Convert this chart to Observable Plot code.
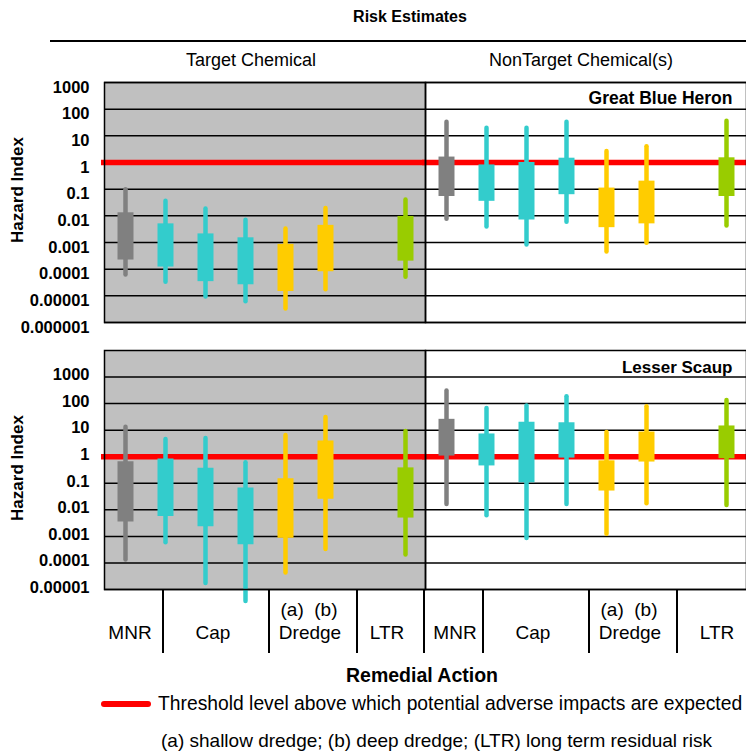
<!DOCTYPE html>
<html><head><meta charset="utf-8">
<script src="https://cdn.jsdelivr.net/npm/d3@7"></script>
<script src="https://cdn.jsdelivr.net/npm/@observablehq/plot@0.6"></script>
<style>
body{margin:0;background:#fff;font-family:"Liberation Sans",Arial,sans-serif;}
#root{position:relative;width:746px;height:752px;overflow:hidden;background:#fff;}
.t{position:absolute;white-space:nowrap;color:#000;line-height:1;}
.c{transform:translate(-50%,-50%);}
.l{transform:translate(0,-50%);}
.hl{position:absolute;background:#000;}
.pl{position:absolute;left:0;}
</style></head><body><div id="root"></div>
<script>
// ---------- data ----------
const actions = ["MNR","Cap 1","Cap 2","Cap 3","Dredge (a)","Dredge (b)","LTR"];
const xSlots = ["MNR","Cap 1","Cap 2","Cap 3","Dredge (a)","Dredge (b)","","LTR"];
const actionColors = ["#808080","#33cccc","#33cccc","#33cccc","#ffcc00","#ffcc00","#99cc00"];
const chemicals = ["Target Chemical","NonTarget Chemical(s)"];
const receptors = ["Great Blue Heron","Lesser Scaup"];
const threshold = 1;

// Great Blue Heron – Target Chemical
const heronTargetWhiskerLow = [6e-5, 3.2e-5, 9e-6, 6e-6, 3.2e-6, 1.7e-5, 5e-5];
const heronTargetBoxLow     = [2.2e-4, 1.2e-4, 3.4e-5, 2.6e-5, 1.45e-5, 8e-5, 2e-4];
const heronTargetBoxHigh    = [0.013, 0.005, 0.0021, 0.0015, 8.5e-4, 0.0044, 0.0095];
const heronTargetWhiskerHigh= [0.095, 0.035, 0.018, 0.0069, 0.0032, 0.019, 0.039];
// Great Blue Heron – NonTarget Chemical(s)
const heronNonWhiskerLow = [0.0075, 0.0038, 8e-4, 0.0058, 4.4e-4, 9.4e-4, 0.0042];
const heronNonBoxLow     = [0.053, 0.035, 0.007, 0.062, 0.0036, 0.005, 0.053];
const heronNonBoxHigh    = [1.6, 0.81, 1.0, 1.45, 0.11, 0.2, 1.5];
const heronNonWhiskerHigh= [32, 19.4, 19.4, 32, 2.6, 3.9, 35];
// Lesser Scaup – Target Chemical
const scaupTargetWhiskerLow = [1.3e-4, 5.7e-4, 1.7e-5, 3.5e-6, 4.2e-5, 3.2e-4, 2e-4];
const scaupTargetBoxLow     = [0.0035, 0.0056, 0.0023, 4.8e-4, 8.5e-4, 0.025, 0.0049];
const scaupTargetBoxHigh    = [0.65, 0.82, 0.37, 0.066, 0.148, 3.9, 0.38];
const scaupTargetWhiskerHigh= [13, 4.5, 4.9, 0.59, 6.3, 30, 9];
// Lesser Scaup – NonTarget Chemical(s)
const scaupNonWhiskerLow = [0.016, 0.006, 8.3e-4, 0.016, 0.0012, 0.017, 0.0145];
const scaupNonBoxLow     = [1.06, 0.45, 0.105, 0.89, 0.051, 0.63, 0.84];
const scaupNonBoxHigh    = [25.6, 7.2, 20, 19, 0.7, 8.5, 14.4];
const scaupNonWhiskerHigh= [300, 65, 82, 183, 8.1, 77, 130];

// axis ticks
const heronTicks = [1000, 100, 10, 1, 0.1, 0.01, 0.001, 0.0001, 0.00001, 0.000001];
const heronTickLabels = ["1000","100","10","1","0.1","0.01","0.001","0.0001","0.00001","0.000001"];
const scaupTicks = [1000, 100, 10, 1, 0.1, 0.01, 0.001, 0.0001, 0.00001];
const scaupTickLabels = ["1000","100","10","1","0.1","0.01","0.001","0.0001","0.00001"];

const footerGroups = ["MNR","Cap","Dredge","LTR"];
const legendText = "Threshold level above which potential adverse impacts are expected";
const noteText = "(a) shallow dredge; (b) deep dredge; (LTR) long term residual risk";

// ---------- build ----------
function rows(chem, wl, bl, bh, wh) {
  return actions.map((a, i) => ({chem, action: a, wl: wl[i], bl: bl[i], bh: bh[i], wh: wh[i]}));
}
const heronRows = rows(chemicals[0], heronTargetWhiskerLow, heronTargetBoxLow, heronTargetBoxHigh, heronTargetWhiskerHigh)
  .concat(rows(chemicals[1], heronNonWhiskerLow, heronNonBoxLow, heronNonBoxHigh, heronNonWhiskerHigh));
const scaupRows = rows(chemicals[0], scaupTargetWhiskerLow, scaupTargetBoxLow, scaupTargetBoxHigh, scaupTargetWhiskerHigh)
  .concat(rows(chemicals[1], scaupNonWhiskerLow, scaupNonBoxLow, scaupNonBoxHigh, scaupNonWhiskerHigh));

const FONT = "Liberation Sans, Arial, sans-serif";

function panel({data, domain, ticks, labels, tickDy, receptor, labelDy, labelSize, height, marginBottom}) {
  return Plot.plot({
    width: 746, height, marginLeft: 104, marginRight: 0, marginTop: 10, marginBottom,
    style: {fontFamily: FONT, background: "transparent", overflow: "visible", color: "#000"},
    fx: {domain: chemicals, padding: 0, axis: null},
    x: {type: "band", domain: xSlots, padding: 0, axis: null},
    y: {type: "log", domain},
    color: {domain: actions, range: actionColors},
    marks: [
      Plot.rect([{chem: chemicals[0]}], {fx: "chem", fill: "#c0c0c0"}),
      Plot.ruleY(ticks, {stroke: "#000", strokeWidth: 1.5}),
      Plot.ruleY([threshold], {stroke: "#ff0000", strokeWidth: 5.5, insetLeft: -3}),
      Plot.ruleX(data, {fx: "chem", x: "action", y1: "wl", y2: "wh", stroke: "action", strokeWidth: 4.5, strokeLinecap: "round"}),
      Plot.ruleX(data, {fx: "chem", x: "action", y1: "bl", y2: "bh", stroke: "action", strokeWidth: 16}),
      Plot.frame({stroke: "#000", strokeWidth: 1.5}),
      Plot.axisY(ticks, {anchor: "left", facetAnchor: "left", tickSize: 0, tickPadding: 15, fontSize: 16.5, fontWeight: "bold",
        dy: tickDy, tickFormat: d => labels[ticks.indexOf(d)], label: null}),
      Plot.text([{chem: chemicals[1], receptor}], {fx: "chem", text: "receptor", frameAnchor: "top-right", lineAnchor: "middle",
        dx: -14, dy: labelDy, fontSize: labelSize, fontWeight: "bold", fill: "#000"})
    ]
  });
}

const root = document.getElementById("root");
function addText(txt, x, y, css, cls = "c") {
  const d = document.createElement("div");
  d.className = "t " + cls;
  d.textContent = txt;
  d.style.left = x + "px"; d.style.top = y + "px";
  Object.assign(d.style, css || {});
  root.appendChild(d);
  return d;
}
function addLine(x, y, w, h, color) {
  const d = document.createElement("div");
  d.className = "hl";
  Object.assign(d.style, {left: x + "px", top: y + "px", width: w + "px", height: h + "px"});
  if (color) d.style.background = color;
  root.appendChild(d);
  return d;
}

// header
addText("Risk Estimates", 410, 17, {fontSize: "16px", fontWeight: "bold"});
addLine(50, 40, 696, 2);
addText(chemicals[0], 251, 60, {fontSize: "18px"});
addText(chemicals[1], 581, 60, {fontSize: "18px"});

// panels
const top1 = panel({data: heronRows, domain: [1e-6, 1e3], ticks: heronTicks, labels: heronTickLabels, tickDy: 5,
  receptor: receptors[0], labelDy: 16, labelSize: 17.5, height: 260, marginBottom: 10});
const w1 = document.createElement("div"); w1.className = "pl"; w1.style.top = "72px"; w1.appendChild(top1); root.appendChild(w1);

const bot1 = panel({data: scaupRows, domain: [1e-5, 1e4], ticks: scaupTicks, labels: scaupTickLabels, tickDy: -2,
  receptor: receptors[1], labelDy: 17, labelSize: 17, height: 264, marginBottom: 15});
const w2 = document.createElement("div"); w2.className = "pl"; w2.style.top = "340px"; w2.appendChild(bot1); root.appendChild(w2);

// y titles
addText("Hazard Index", 17, 190, {fontSize: "17px", fontWeight: "bold", transform: "translate(-50%,-50%) rotate(-90deg)"});
addText("Hazard Index", 17, 468, {fontSize: "17px", fontWeight: "bold", transform: "translate(-50%,-50%) rotate(-90deg)"});

// footer category table
[163, 269, 357, 424, 483, 589, 677].forEach(x => addLine(x - 0.75, 589, 1.5, 64));
const groupCenters = [[130, 213, 310, 387], [455, 533, 630, 717]];
groupCenters.forEach(cs => {
  cs.forEach((cx, i) => addText(footerGroups[i], cx, 632, {fontSize: "19px"}));
  addText("(a)  (b)", cs[2] - 1, 609, {fontSize: "19px", whiteSpace: "pre"});
});
addText("Remedial Action", 422, 676, {fontSize: "19.5px", fontWeight: "bold"});

// legend
const lg = addLine(101, 701, 50, 6, "#ff0000"); lg.style.borderRadius = "3px";
addText(legendText, 158, 704, {fontSize: "19.3px"}, "l");
addText(noteText, 161, 740, {fontSize: "19px"}, "l");
</script></body></html>
